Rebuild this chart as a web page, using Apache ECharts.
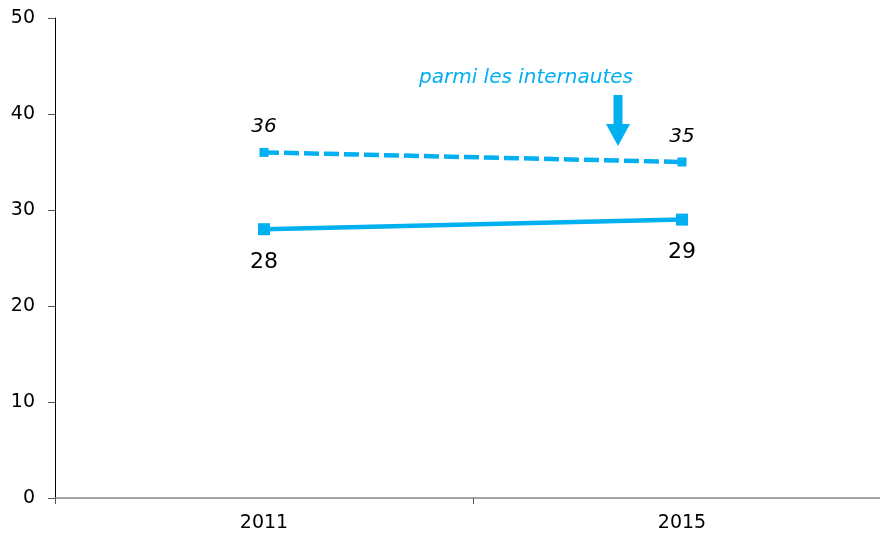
<!DOCTYPE html>
<html>
<head>
<meta charset="utf-8">
<script src="https://cdn.jsdelivr.net/npm/echarts@6/dist/echarts.min.js"></script>
<style>html,body{margin:0;padding:0;background:#fff;overflow:hidden;width:880px;height:540px}#c{width:891px;height:540px}</style>
</head>
<body>
<div id="c"></div>
<script>
const categories = ['2011', '2015'];
const ensembleValues = [28, 29];
const internautesValues = [36, 35];
const yTicks = [0, 10, 20, 30, 40, 50];
const annotationText = 'parmi les internautes';

const BLUE = '#00B0F0';
const FONT = '"DejaVu Sans", Verdana, sans-serif';

const chart = echarts.init(document.getElementById('c'), null, {renderer: 'canvas'});
chart.setOption({
  animation: false,
  backgroundColor: '#fff',
  grid: {left: 55, right: 0, top: 18, bottom: 42, containLabel: false},
  xAxis: {
    type: 'category',
    data: categories,
    boundaryGap: true,
    axisLine: {lineStyle: {color: '#888', width: 1.5}},
    axisTick: {show: true, length: 6, lineStyle: {color: '#555'}},
    axisLabel: {color: '#000', fontSize: 19, fontFamily: FONT, margin: 16}
  },
  yAxis: {
    type: 'value',
    min: yTicks[0],
    max: yTicks[yTicks.length - 1],
    interval: 10,
    axisLine: {show: true, lineStyle: {color: '#000', width: 1}},
    axisTick: {show: true, length: 7, lineStyle: {color: '#555'}},
    splitLine: {show: false},
    axisLabel: {color: '#000', fontSize: 19, fontFamily: FONT, margin: 20}
  },
  series: [
    {
      type: 'line',
      data: ensembleValues,
      symbol: 'rect',
      symbolSize: 12,
      itemStyle: {color: BLUE},
      lineStyle: {color: BLUE, width: 4.5},
      label: {show: true, position: 'bottom', distance: 16, color: '#000', fontSize: 22, fontFamily: FONT},
      z: 3
    },
    {
      type: 'line',
      data: internautesValues,
      symbol: 'rect',
      symbolSize: 9,
      itemStyle: {color: BLUE},
      lineStyle: {color: BLUE, width: 4.5, type: [15, 5]},
      label: {show: true, position: 'top', distance: 11, color: '#000', fontSize: 20, fontStyle: 'italic', fontFamily: FONT},
      z: 3
    }
  ],
  graphic: [
    {
      type: 'text',
      left: 419,
      top: 68,
      style: {text: annotationText, fill: BLUE, fontSize: 20, fontStyle: 'italic', fontFamily: FONT}
    },
    {
      type: 'rect',
      shape: {x: 613.5, y: 95, width: 9, height: 31},
      style: {fill: BLUE}
    },
    {
      type: 'polygon',
      shape: {points: [[606, 124], [630, 124], [618, 146]]},
      style: {fill: BLUE}
    }
  ]
});
</script>
</body>
</html>
